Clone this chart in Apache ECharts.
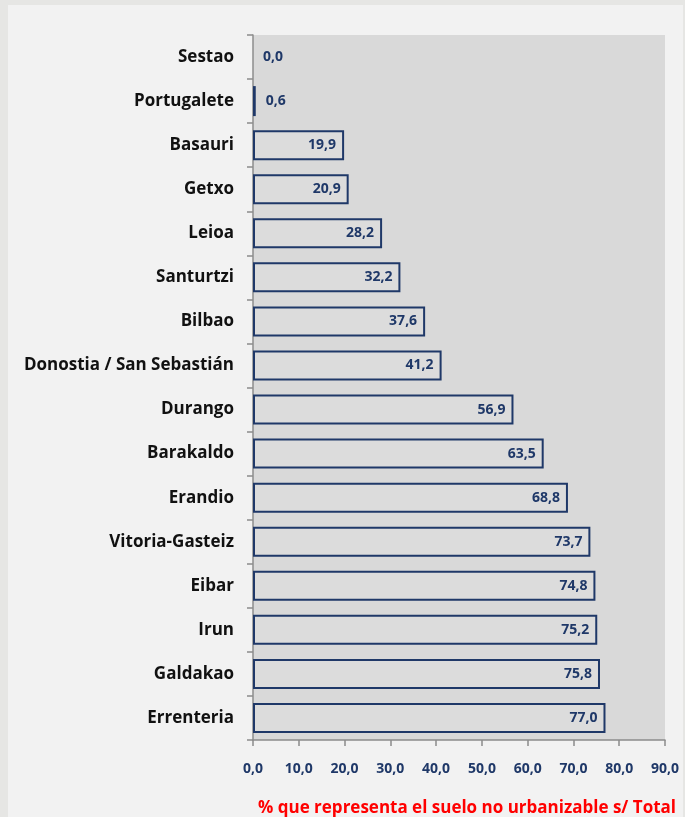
<!DOCTYPE html>
<html>
<head>
<meta charset="utf-8">
<script src="https://cdn.jsdelivr.net/npm/echarts@6/dist/echarts.min.js"></script>
<style>
  html, body { margin: 0; padding: 0; width: 685px; height: 817px; background: #e6e6e4; overflow: hidden; }
  #panel { position: absolute; left: 8px; top: 5px; width: 675px; height: 812px; background: #f2f2f2; }
  #chart { position: absolute; left: 0; top: 0; width: 685px; height: 817px; }
</style>
</head>
<body>
<div id="panel"></div>
<div id="chart"></div>
<script>
// Municipalities, top to bottom
const municipios = [
  'Sestao', 'Portugalete', 'Basauri', 'Getxo', 'Leioa', 'Santurtzi', 'Bilbao',
  'Donostia / San Sebastián', 'Durango', 'Barakaldo', 'Erandio', 'Vitoria-Gasteiz',
  'Eibar', 'Irun', 'Galdakao', 'Errenteria'
];
// % of non-developable land over total
const porcentajes = [
  0.0, 0.6, 19.9, 20.9, 28.2, 32.2, 37.6, 41.2, 56.9, 63.5, 68.8, 73.7, 74.8, 75.2, 75.8, 77.0
];
const tituloEje = '% que representa el suelo no urbanizable s/ Total';

const FONT = '"Open Sans", "Noto Sans", sans-serif';
const NAVY = '#1f3868';
const fmt = v => v.toFixed(1).replace('.', ',');

const chart = echarts.init(document.getElementById('chart'));
chart.setOption({
  backgroundColor: 'transparent',
  animation: false,
  grid: {
    left: 253, right: 20, top: 35, bottom: 77,
    containLabel: false, outerBoundsMode: 'none',
    show: true, backgroundColor: '#d9d9d9', borderWidth: 0
  },
  xAxis: {
    type: 'value', min: 0, max: 90, interval: 10,
    axisLine: { show: true, lineStyle: { color: '#8c8c8c', width: 1.5 } },
    axisTick: { show: true, length: 6, lineStyle: { color: '#8c8c8c', width: 1.5 } },
    splitLine: { show: false },
    axisLabel: {
      formatter: v => fmt(v), color: NAVY, fontFamily: FONT, fontWeight: 'bold',
      fontSize: 14, margin: 22
    },
    name: tituloEje, nameLocation: 'middle', nameGap: 60,
    nameTextStyle: {
      color: '#ff0000', fontFamily: FONT, fontWeight: 'bold', fontSize: 17,
      padding: [0, 0, 0, 16]
    }
  },
  yAxis: {
    type: 'category', inverse: true, data: municipios,
    axisLine: { show: true, lineStyle: { color: '#8c8c8c', width: 1.5 } },
    axisTick: { show: true, length: 6, lineStyle: { color: '#8c8c8c', width: 1.5 } },
    axisLabel: {
      color: '#111111', fontFamily: FONT, fontWeight: 'bold', fontSize: 17, margin: 19
    }
  },
  series: [{
    type: 'bar',
    barWidth: 30,
    data: porcentajes.map(v => ({
      value: v,
      itemStyle: v === 0 ? { borderWidth: 0 } : undefined,
      label: { position: v < 5 ? 'right' : 'insideRight', distance: v < 5 ? 10 : 8 }
    })),
    itemStyle: { color: '#dcdcdc', borderColor: NAVY, borderWidth: 2 },
    label: {
      show: true, formatter: p => fmt(p.value), color: NAVY,
      fontFamily: FONT, fontWeight: 'bold', fontSize: 14
    }
  }]
});
</script>
</body>
</html>
